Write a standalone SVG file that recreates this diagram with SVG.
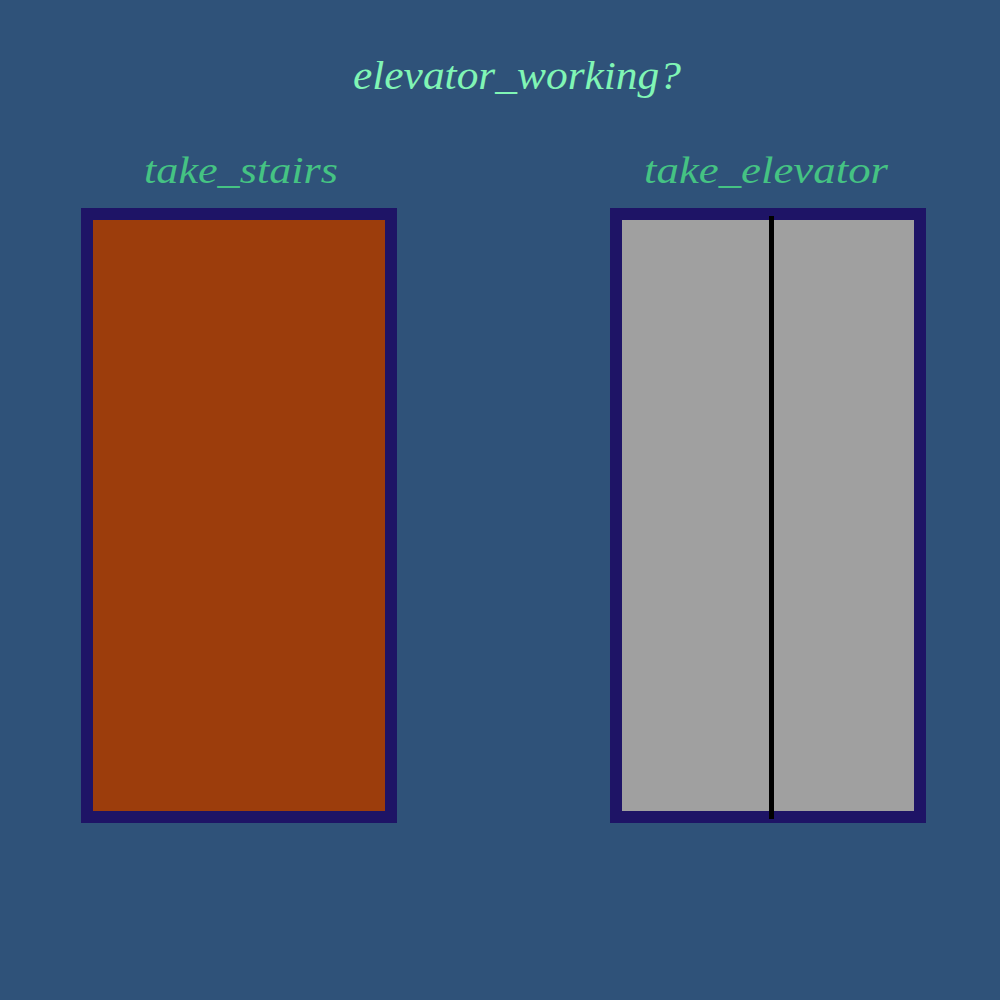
<svg xmlns="http://www.w3.org/2000/svg" width="1000" height="1000" viewBox="0 0 1000 1000">
<style>
.t{font-family:"Z003","URW Chancery L","Liberation Serif",serif;font-style:italic;text-anchor:middle}
.frame{stroke:#1E1466;stroke-width:12}
</style>
<rect width="1000" height="1000" fill="#2F5279"/>
<text class="t" x="517" y="89" font-size="40" fill="#80F5B5" textLength="328" lengthAdjust="spacingAndGlyphs">elevator_working?</text>
<g id="stairs">
<text class="t" x="241" y="183" font-size="38" fill="#45C383" textLength="194" lengthAdjust="spacingAndGlyphs">take_stairs</text>
<rect class="frame" x="87" y="214" width="304" height="603" fill="#9C3D0C"/>
</g>
<g id="elevator">
<text class="t" x="766" y="183" font-size="38" fill="#45C383" textLength="244" lengthAdjust="spacingAndGlyphs">take_elevator</text>
<rect class="frame" x="616" y="214" width="304" height="603" fill="#A0A0A0"/>
<line x1="771.5" y1="216" x2="771.5" y2="819" stroke="#000" stroke-width="5"/>
</g>
</svg>
